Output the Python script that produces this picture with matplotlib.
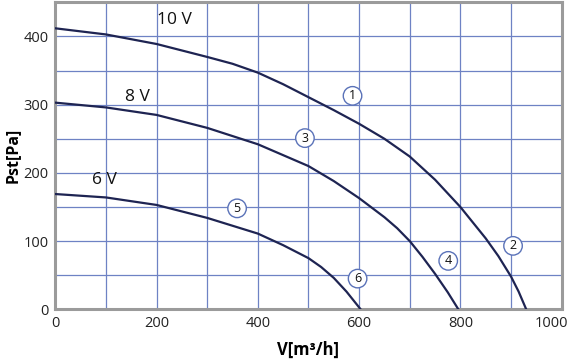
import matplotlib.pyplot as plt
from matplotlib.transforms import ScaledTranslation

plt.rcParams.update({'font.family': ['Open Sans', 'DejaVu Sans'], 'font.size': 10})

# Fan curves: airflow V [m3/h] vs static pressure Pst [Pa]
v_10 = [0, 100, 200, 300, 350, 400, 450, 500, 550, 600, 650, 700, 750, 800, 850, 875, 900, 915, 930]
p_10 = [412, 403, 389, 370, 360, 347, 330, 311, 292, 272, 250, 224, 190, 150, 104, 78, 48, 26, 0]

v_8 = [0, 100, 200, 300, 400, 500, 550, 600, 650, 675, 700, 725, 750, 775, 796]
p_8 = [303, 296, 285, 266, 242, 210, 188, 163, 135, 119, 100, 77, 52, 25, 0]

v_6 = [0, 100, 200, 300, 400, 450, 500, 525, 550, 575, 603]
p_6 = [169, 164, 153, 134, 111, 94, 75, 62, 46, 26, 0]

curve_labels = ['10 V', '8 V', '6 V']
curve_label_pos = [(236, 424), (163, 311), (98, 189)]

marker_ids = ['1', '2', '3', '4', '5', '6']
marker_pos = [(587, 313), (904, 93), (493, 251), (776, 71), (359, 148), (597, 45)]

x_ticks = [0, 200, 400, 600, 800, 1000]
y_ticks = [0, 100, 200, 300, 400]

grid_col = '#6e82c4'
line_col = '#1e2452'
edge_col = '#9b9b9b'

fig = plt.figure(figsize=(5.73, 3.62), dpi=100)
ax = fig.add_axes([0.0965, 0.1456, 0.8837, 0.8478])

for v, p in [(v_10, p_10), (v_8, p_8), (v_6, p_6)]:
    ax.plot(v, p, color=line_col, linewidth=1.6, zorder=3)

ax.set_xlim(0, 1000)
ax.set_ylim(0, 450)
ax.set_xticks(range(0, 1001, 100))
ax.set_yticks(range(0, 451, 50))
ax.set_xticklabels([str(t) if t in x_ticks else '' for t in range(0, 1001, 100)])
ax.set_yticklabels([str(t) if t in y_ticks else '' for t in range(0, 451, 50)])
ax.tick_params(length=0, labelsize=10.5, pad=5, labelcolor='#222222', grid_color=grid_col, grid_linewidth=0.9)
ax.grid(True)
ax.set_axisbelow(True)

# the last x label sits a bit inside the frame in the original
last = ax.get_xticklabels()[-1]
last.set_transform(last.get_transform() + ScaledTranslation(-10 / 100, 0, fig.dpi_scale_trans))

for side in ['left', 'bottom', 'top', 'right']:
    ax.spines[side].set_color(edge_col)
    ax.spines[side].set_linewidth(2.2)

for text, (x, y) in zip(curve_labels, curve_label_pos):
    ax.text(x, y, text, fontsize=12.5, ha='center', va='center', color='#111111', zorder=4)

# circled curve numbers
for text, (x, y) in zip(marker_ids, marker_pos):
    ax.annotate(text, (x, y), ha='center', va='center', fontsize=9, color='#111111',
                bbox=dict(boxstyle='circle,pad=0.22', fc='white', ec='#5a72b8', lw=1.0),
                zorder=5)

ax.set_xlabel('V[m³/h]', fontsize=12, fontweight='bold', labelpad=7)
ax.set_ylabel('Pst[Pa]', fontsize=11.5, fontweight='bold', labelpad=2)

fig.savefig('out.png', dpi=100)
